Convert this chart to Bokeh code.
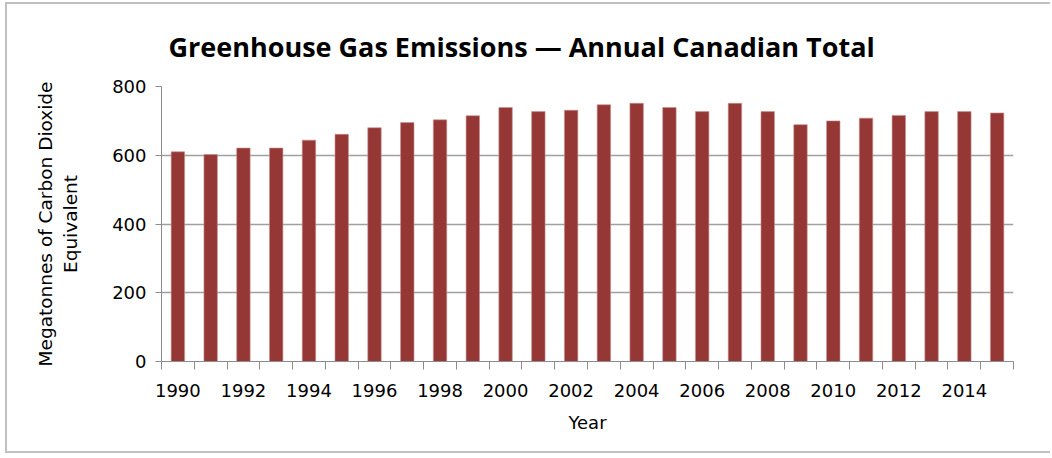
from bokeh.plotting import figure
from bokeh.models import FixedTicker, Range1d
from bokeh.embed import file_html
from bokeh.resources import INLINE

years = list(range(1990, 2016))
emissions = [610, 602, 621, 621, 644, 661, 680, 695, 703, 715, 739, 727, 731, 747,
             751, 739, 727, 751, 727, 689, 700, 708, 716, 727, 727, 723]
x_tick_labels = list(range(1990, 2016, 2))
y_ticks = [0, 200, 400, 600, 800]

FONT = "DejaVu Sans"
p = figure(width=1045, height=451, output_backend="svg", toolbar_location=None,
           x_range=Range1d(years[0] - 0.5, years[-1] + 0.5), y_range=Range1d(0, 800),
           min_border_left=154, min_border_right=39, min_border_top=82, min_border_bottom=94,
           styles={"margin-left": "5px", "margin-top": "2px",
                   "border-left": "2px solid #c0c0c0", "border-top": "2px solid #c0c0c0",
                   "border-bottom": "2px solid #c0c0c0"})

p.vbar(x=years, top=emissions, width=0.41, fill_color="#953735", line_color="#c98f8e", line_width=0.6)

p.title.text = "Greenhouse Gas Emissions \u2014 Annual Canadian Total"
p.title.text_font = "Open Sans"
p.title.text_font_size = "27px"
p.title.text_font_style = "bold"
p.title.text_color = "#000000"
p.title.align = "left"
p.title.offset = 7
p.title.standoff = 43

p.outline_line_color = None
p.background_fill_color = "white"
p.border_fill_color = "white"

p.xgrid.grid_line_color = None
p.ygrid.grid_line_color = "#a0a0a0"
p.ygrid.grid_line_width = 1.5
p.ygrid.ticker = FixedTicker(ticks=y_ticks)

p.yaxis.ticker = FixedTicker(ticks=y_ticks)
p.yaxis.axis_line_color = "#8c8c8c"
p.yaxis.major_tick_line_color = "#8c8c8c"
p.yaxis.major_tick_out = 6
p.yaxis.major_tick_in = 0
p.yaxis.minor_tick_line_color = None
p.yaxis.major_label_text_font = FONT
p.yaxis.major_label_text_font_size = "18px"
p.yaxis.major_label_text_color = "#000000"
p.yaxis.major_label_standoff = 9
p.yaxis.axis_label = "Megatonnes of Carbon Dioxide\nEquivalent"
p.yaxis.axis_label_text_font = FONT
p.yaxis.axis_label_text_font_size = "18.5px"
p.yaxis.axis_label_text_font_style = "normal"
p.yaxis.axis_label_text_color = "#000000"
p.yaxis.axis_label_standoff = 28

p.xaxis.ticker = FixedTicker(ticks=x_tick_labels, minor_ticks=[y - 0.5 for y in years] + [years[-1] + 0.5])
p.xaxis.axis_line_color = "#8c8c8c"
p.xaxis.major_tick_line_color = None
p.xaxis.major_tick_out = 0
p.xaxis.major_tick_in = 0
p.xaxis.minor_tick_line_color = "#8c8c8c"
p.xaxis.minor_tick_out = 8
p.xaxis.minor_tick_in = 0
p.xaxis.major_label_text_font = FONT
p.xaxis.major_label_text_font_size = "18px"
p.xaxis.major_label_text_color = "#000000"
p.xaxis.major_label_standoff = 14
p.xaxis.axis_label = "Year"
p.xaxis.axis_label_text_font = FONT
p.xaxis.axis_label_text_font_size = "18px"
p.xaxis.axis_label_text_font_style = "normal"
p.xaxis.axis_label_text_color = "#000000"
p.xaxis.axis_label_standoff = 12

open("out.html", "w").write(file_html(p, INLINE))
